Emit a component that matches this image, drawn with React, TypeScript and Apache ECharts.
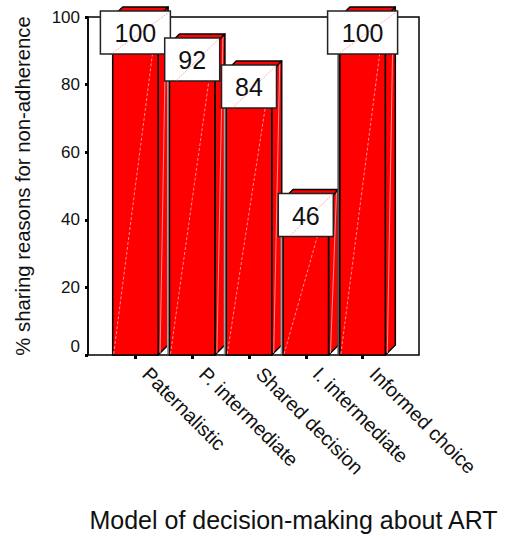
import React, { useEffect, useRef } from "react";
import * as echarts from "echarts";

const categories = ["Paternalistic", "P. intermediate", "Shared decision", "I. intermediate", "Informed choice"];
const values = [100, 92, 84, 46, 100];
const yTicks = [0, 20, 40, 60, 80, 100];
const yTitle = "% sharing reasons for non-adherence";
const xTitle = "Model of decision-making about ART";

const FONT = "'Liberation Sans', Arial, sans-serif";
const RED = "#ff0000";
const PINK = "#ffb0b0";
const DEPTH = 10;

function renderBar(params: any, api: any) {
  const idx = api.value(0);
  const [cx, y0] = api.coord([idx, 0]);
  const [, y1] = api.coord([idx, api.value(1)]);
  const w = api.size([1, 0])[0] * 0.8;
  const l = cx - w / 2;
  const r = cx + w / 2;
  const stroke = { stroke: "#000", lineWidth: 1.5, lineJoin: "round" };
  const children: any[] = [];
  if (idx > 0) {
    children.push({
      type: "rect",
      shape: { x: l - 2.5, y: Math.max(y1, 17), width: 2.5, height: y0 - Math.max(y1, 17) - 1 },
      style: { fill: idx === 4 ? "#555" : "#a0a0a0" },
    });
  }
  children.push(
    {
      type: "polygon",
      shape: { points: [[r, y0], [r + DEPTH, y0 - DEPTH], [r + DEPTH, y1 - DEPTH], [r, y1]] },
      style: { fill: RED, ...stroke },
    },
    {
      type: "line",
      shape: { x1: r + 2, y1: y0 - 2, x2: r + DEPTH - 2, y2: y1 - DEPTH + 2 },
      style: { stroke: PINK, lineWidth: 1, opacity: 0.8 },
    },
    {
      type: "polygon",
      shape: { points: [[l, y1], [l + DEPTH, y1 - DEPTH], [r + DEPTH, y1 - DEPTH], [r, y1]] },
      style: { fill: RED, ...stroke },
    },
    {
      type: "rect",
      shape: { x: l, y: y1, width: w, height: y0 - y1 },
      style: { fill: RED, ...stroke },
    },
    {
      type: "line",
      shape: { x1: l + 1, y1: y0 - 1, x2: r - 1, y2: y1 + 1 },
      style: { stroke: PINK, lineWidth: 1, lineDash: [3, 2], opacity: 0.8 },
    }
  );
  return { type: "group", children };
}

function renderLabel(params: any, api: any) {
  const idx = api.value(0);
  const val = api.value(1);
  const [cx] = api.coord([idx, 0]);
  const [, y1] = api.coord([idx, val]);
  const text = String(val);
  const bw = text.length > 2 ? 70 : 55;
  const bh = 43;
  const top = y1 - 6;
  const left = cx - bw / 2;
  return {
    type: "group",
    children: [
      {
        type: "rect",
        shape: { x: left, y: top, width: bw, height: bh },
        style: { fill: "#fff", stroke: "#222", lineWidth: 1.5 },
      },
      {
        type: "line",
        shape: { x1: left + 12, y1: top + bh - 1, x2: left + bw - 1, y2: top + 1 },
        style: { stroke: PINK, lineWidth: 1, lineDash: [2, 1] },
      },
      {
        type: "text",
        style: {
          x: cx,
          y: top + bh / 2 + 0.5,
          text,
          fill: "#111",
          font: `25px ${FONT}`,
          align: "center",
          verticalAlign: "middle",
        },
      },
    ],
  };
}

export default function App() {
  const ref = useRef<HTMLDivElement>(null);
  useEffect(() => {
    document.body.style.margin = "0";
    const chart = echarts.init(ref.current!, null, { renderer: "svg" });
    const seriesData = categories.map((_, i) => [i, values[i]]);
    chart.setOption({
      animation: false,
      backgroundColor: "#fff",
      textStyle: { fontFamily: FONT },
      grid: [
        { left: 88, top: 17, width: 331, height: 338, show: true, backgroundColor: "transparent", borderColor: "#000", borderWidth: 1.5, z: 0 },
        { left: 107, top: 17, width: 284, height: 338, show: false },
      ],
      xAxis: [
        { type: "value", gridIndex: 0, min: 0, max: 1, axisLine: { show: false }, axisTick: { show: false }, axisLabel: { show: false }, splitLine: { show: false } },
        {
          type: "category",
          gridIndex: 1,
          data: categories,
          axisLine: { show: false },
          axisTick: { show: true, alignWithLabel: true, length: 4, lineStyle: { color: "#000", width: 3 } },
          axisLabel: { rotate: -45, interval: 0, margin: 5, padding: [0, 0, 0, 15], color: "#111", fontSize: 19.8, fontFamily: FONT },
          splitLine: { show: false },
        },
      ],
      yAxis: [
        {
          type: "value",
          gridIndex: 0,
          min: 0,
          max: 100,
          interval: yTicks[1] - yTicks[0],
          name: yTitle,
          nameLocation: "middle",
          nameGap: 55,
          nameTextStyle: { color: "#111", fontSize: 20.3, fontFamily: FONT },
          axisLine: { show: true, lineStyle: { color: "#000", width: 1.5 } },
          axisTick: { show: true, length: 3, lineStyle: { color: "#000", width: 3 } },
          axisLabel: { color: "#111", fontSize: 17, margin: 8, fontFamily: FONT, verticalAlignMinLabel: "bottom" },
          splitLine: { show: false },
        },
        { type: "value", gridIndex: 1, min: 0, max: 100, show: false },
      ],
      graphic: [
        {
          type: "text",
          x: 293.5,
          y: 520,
          style: { text: xTitle, fill: "#111", font: `25px ${FONT}`, align: "center", verticalAlign: "middle" },
        },
      ],
      series: [
        { type: "custom", xAxisIndex: 1, yAxisIndex: 1, renderItem: renderBar, data: seriesData, clip: false, z: 2, encode: { x: 0, y: 1 } },
        { type: "custom", xAxisIndex: 1, yAxisIndex: 1, renderItem: renderLabel, data: seriesData, clip: false, z: 3, encode: { x: 0, y: 1 } },
      ],
    });
    return () => chart.dispose();
  }, []);
  return <div ref={ref} style={{ width: 507, height: 536 }} />;
}
